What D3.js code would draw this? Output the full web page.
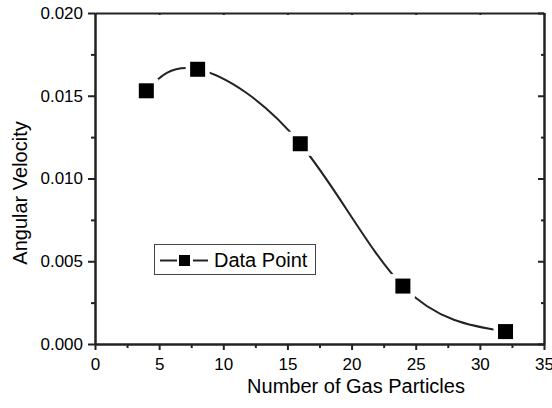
<!DOCTYPE html>
<html><head><meta charset="utf-8">
<script src="https://cdn.jsdelivr.net/npm/d3@7"></script>
<style>body{margin:0;background:#fff}svg{display:block}</style>
</head><body>
<svg id="c" width="552" height="408"></svg>
<script>
const particles = [4, 8, 16, 24, 32];
const angularVelocity = [0.0153, 0.0166, 0.0121, 0.0035, 0.00075];
const xTicks = [0, 5, 10, 15, 20, 25, 30, 35];
const yTicks = [0.000, 0.005, 0.010, 0.015, 0.020];
const xTitle = "Number of Gas Particles";
const yTitle = "Angular Velocity";
const legendLabel = "Data Point";

const svg = d3.select("#c");
const L = 95, R = 544, T = 13, B = 344;
const x = d3.scaleLinear().domain([0, 35]).range([L, R]);
const y = d3.scaleLinear().domain([0, 0.020]).range([B, T]);
const font = "'Liberation Sans', Arial, sans-serif";
const ink = "#222";

const data = particles.map((p, i) => ({x: p, y: angularVelocity[i]}));

// curve
const line = d3.line().x(d => x(d.x)).y(d => y(d.y)).curve(d3.curveNatural);
svg.append("path").attr("d", line(data)).attr("fill", "none")
  .attr("stroke", ink).attr("stroke-width", 2);
// gaps around markers
svg.selectAll("rect.gap").data(data).join("rect").attr("class", "gap")
  .attr("x", d => x(d.x) - 12).attr("y", d => y(d.y) - 12)
  .attr("width", 24).attr("height", 24).attr("fill", "#fff");
svg.selectAll("rect.mk").data(data).join("rect").attr("class", "mk")
  .attr("x", d => x(d.x) - 7.5).attr("y", d => y(d.y) - 7.5)
  .attr("width", 15).attr("height", 15).attr("fill", "#000");

// axes
const xMinor = d3.range(2.5, 35, 5);
const yMinor = d3.range(0.0025, 0.020, 0.005);
svg.append("g").attr("transform", `translate(0,${B})`)
  .call(d3.axisBottom(x).tickValues(xTicks).tickFormat(d3.format("d")).tickSizeInner(6).tickSizeOuter(0).tickPadding(8));
svg.append("g").attr("transform", `translate(${L},0)`)
  .call(d3.axisLeft(y).tickValues(yTicks).tickFormat(d3.format(".3f")).tickSizeInner(7).tickSizeOuter(0).tickPadding(5));
svg.append("g").attr("transform", `translate(0,${T})`)
  .call(d3.axisTop(x).tickValues(xTicks).tickFormat("").tickSizeInner(-2).tickSizeOuter(0));
svg.append("g").attr("transform", `translate(${R},0)`)
  .call(d3.axisRight(y).tickValues(yTicks).tickFormat("").tickSizeInner(-6).tickSizeOuter(0));
svg.append("g").attr("transform", `translate(0,${B})`)
  .call(d3.axisBottom(x).tickValues(xMinor).tickFormat("").tickSizeInner(4).tickSizeOuter(0));
svg.append("g").attr("transform", `translate(${L},0)`)
  .call(d3.axisLeft(y).tickValues(yMinor).tickFormat("").tickSizeInner(4).tickSizeOuter(0));
svg.append("g").attr("transform", `translate(${R},0)`)
  .call(d3.axisRight(y).tickValues(yMinor).tickFormat("").tickSizeInner(-3).tickSizeOuter(0));
svg.selectAll(".domain").attr("stroke", ink).attr("stroke-width", 2);
svg.selectAll(".tick line").attr("stroke", ink).attr("stroke-width", 2);
svg.selectAll(".tick text").attr("font-family", font).attr("font-size", 17).attr("fill", "#000");

// titles
svg.append("text").attr("x", 356).attr("y", 393).attr("text-anchor", "middle")
  .attr("font-family", font).attr("font-size", 20).text(xTitle);
svg.append("text").attr("transform", `translate(27,193) rotate(-90)`)
  .attr("text-anchor", "middle").attr("font-family", font).attr("font-size", 20).text(yTitle);

// legend
const lg = svg.append("g");
lg.append("rect").attr("x", 154.5).attr("y", 244.5).attr("width", 161).attr("height", 30)
  .attr("fill", "#fff").attr("stroke", "#444").attr("stroke-width", 1);
lg.append("line").attr("x1", 160).attr("x2", 177).attr("y1", 260.5).attr("y2", 260.5).attr("stroke", ink).attr("stroke-width", 2);
lg.append("line").attr("x1", 193).attr("x2", 208).attr("y1", 260.5).attr("y2", 260.5).attr("stroke", ink).attr("stroke-width", 2);
lg.append("rect").attr("x", 179).attr("y", 255).attr("width", 11).attr("height", 11).attr("fill", "#000");
lg.append("text").attr("x", 214).attr("y", 267).attr("font-family", font).attr("font-size", 20).text(legendLabel);
</script>
</body></html>
